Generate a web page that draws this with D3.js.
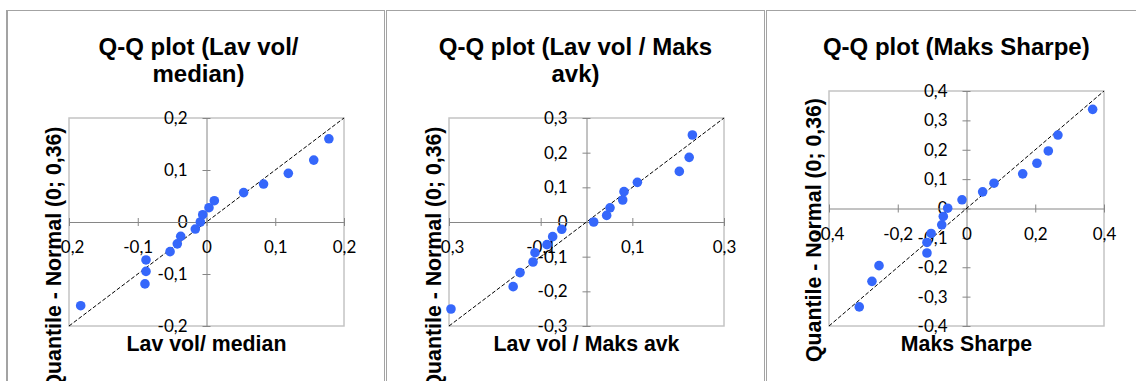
<!DOCTYPE html>
<html>
<head>
<meta charset="utf-8">
<script src="https://cdn.jsdelivr.net/npm/d3@7"></script>
<style>
  body { margin: 0; background: #fff; }
  svg text { fill: #000; }
</style>
</head>
<body>
<svg id="chart" width="1136" height="381"></svg>
<script>
// Points (x = sample quantile, y = normal quantile)
const lavMedianX = [-0.183, -0.088, -0.088, -0.0895, -0.053, -0.0425, -0.0375, -0.0163, -0.009, -0.0055, 0.0036, 0.0114, 0.054, 0.083, 0.119, 0.156, 0.178];
const lavMedianY = [-0.161, -0.073, -0.095, -0.119, -0.057, -0.042, -0.0275, -0.0135, 0.0, 0.014, 0.0275, 0.041, 0.0565, 0.073, 0.0936, 0.119, 0.160];

const lavMaksX = [-0.2957, -0.160, -0.145, -0.1167, -0.1124, -0.0862, -0.0738, -0.054, 0.0157, 0.044, 0.0513, 0.079, 0.0818, 0.111, 0.2025, 0.224, 0.231];
const lavMaksY = [-0.251, -0.1865, -0.146, -0.1154, -0.0885, -0.0654, -0.0423, -0.021, 0.0, 0.019, 0.041, 0.0635, 0.0875, 0.1144, 0.146, 0.1865, 0.251];

const sharpeX = [-0.312, -0.275, -0.2545, -0.115, -0.115, -0.103, -0.072, -0.0675, -0.0547, -0.013, 0.047, 0.080, 0.1635, 0.205, 0.238, 0.266, 0.367];
const sharpeY = [-0.335, -0.248, -0.1946, -0.1515, -0.1155, -0.085, -0.0554, -0.027, 0.001, 0.0296, 0.0567, 0.0862, 0.118, 0.154, 0.196, 0.250, 0.3376];

// Titles and tick values
const titles = [["Q-Q plot (Lav vol/", "median)"], ["Q-Q plot (Lav vol / Maks", "avk)"], ["Q-Q plot (Maks Sharpe)"]];
const xTitles = ["Lav vol/ median", "Lav vol / Maks avk", "Maks Sharpe"];
const yTitle = "Quantile - Normal (0; 0,36)";

const xTicks1 = [-0.2, -0.1, 0, 0.1, 0.2];
const yTicks1 = [-0.2, -0.1, 0, 0.1, 0.2];
const xTicks2 = [-0.3, -0.1, 0.1, 0.3];
const yTicks2 = [-0.3, -0.2, -0.1, 0, 0.1, 0.2, 0.3];
const xTicks3 = [-0.4, -0.2, 0, 0.2, 0.4];
const yTicks3 = [-0.4, -0.3, -0.2, -0.1, 0, 0.1, 0.2, 0.3, 0.4];

const limits = [0.2, 0.3, 0.4];

var svg = d3.select("svg#chart");

// Norwegian number style: comma decimals
const nb = d3.formatLocale({decimal: ",", thousands: " ", grouping: [3], currency: ["", " kr"], minus: "-"});
const fmt = nb.format(".1~f");

// Layout of each panel (frame, plot box, title positions)
const layout = [
  {fx0: 6.5,   fx1: 384.5, px0: 69,  px1: 344,  py0: 118, py1: 326, tcx: 198.5, ytx: 61,  ytcy: 258.5},
  {fx0: 386.5, fx1: 764.5, px0: 449, px1: 724,  py0: 118, py1: 326, tcx: 575.5, ytx: 441, ytcy: 258.5},
  {fx0: 766.5, fx1: 1140,  px0: 829, px1: 1104, py0: 91,  py1: 326, tcx: 956.3, ytx: 821, ytcy: 230}
];

const panels = [
  {xs: lavMedianX, ys: lavMedianY, xt: xTicks1, yt: yTicks1},
  {xs: lavMaksX, ys: lavMaksY, xt: xTicks2, yt: yTicks2},
  {xs: sharpeX, ys: sharpeY, xt: xTicks3, yt: yTicks3}
];

panels.forEach(function(p, i) {
  const L = layout[i];
  const lim = limits[i];

  // panel frame
  svg.append("rect")
    .attr("x", L.fx0).attr("y", 10.5)
    .attr("width", L.fx1 - L.fx0).attr("height", 420)
    .style("fill", "none").style("stroke", "#a3a3a3").style("stroke-width", 1);

  var x = d3.scaleLinear().domain([-lim, lim]).range([L.px0, L.px1]);
  var y = d3.scaleLinear().domain([-lim, lim]).range([L.py1, L.py0]);

  var g = svg.append("g");

  // plot area box
  g.append("rect")
    .attr("x", L.px0).attr("y", L.py0)
    .attr("width", L.px1 - L.px0).attr("height", L.py1 - L.py0)
    .style("fill", "none").style("stroke", "#c4c4c4").style("stroke-width", 1.5);

  // y axis at x = 0
  g.append("g")
    .attr("transform", "translate(" + x(0) + ",0)")
    .call(d3.axisLeft(y).tickValues(p.yt).tickFormat(fmt).tickSizeInner(4).tickSizeOuter(0).tickPadding(15))
    .call(a => a.select(".domain").style("stroke", "#868686"))
    .call(a => a.selectAll(".tick line").attr("x1", 4).attr("x2", -4).style("stroke", "#868686"))
    .call(a => a.selectAll(".tick text").style("font-family", "Lato").style("font-size", "17px").style("fill", "#000"));

  // x axis at y = 0
  g.append("g")
    .attr("transform", "translate(0," + y(0) + ")")
    .call(d3.axisBottom(x).tickValues(p.xt).tickFormat(fmt).tickSizeInner(4).tickSizeOuter(0).tickPadding(15))
    .call(a => a.select(".domain").style("stroke", "#868686"))
    .call(a => a.selectAll(".tick line").attr("y1", -4).attr("y2", 4).style("stroke", "#868686"))
    .call(a => a.selectAll(".tick text").style("font-family", "Lato").style("font-size", "17px").style("fill", "#000"));

  // reference line y = x
  g.append("line")
    .attr("x1", x(-lim)).attr("y1", y(-lim))
    .attr("x2", x(lim)).attr("y2", y(lim))
    .style("stroke", "#000").style("stroke-width", 1).style("stroke-dasharray", "4,2");

  // points
  g.append("g").selectAll("circle")
    .data(p.xs.map((v, k) => [v, p.ys[k]]))
    .enter()
    .append("circle")
    .attr("cx", d => x(d[0]))
    .attr("cy", d => y(d[1]))
    .attr("r", 4.8)
    .style("fill", "#3567fb");

  // chart title
  titles[i].forEach(function(line, k) {
    svg.append("text")
      .attr("x", L.tcx).attr("y", 54.5 + 27 * k)
      .attr("text-anchor", "middle")
      .style("font-family", "Liberation Sans, Arial, sans-serif")
      .style("font-weight", "bold").style("font-size", "24px")
      .text(line);
  });

  // x axis title
  svg.append("text")
    .attr("x", (L.px0 + L.px1) / 2).attr("y", 351)
    .attr("text-anchor", "middle")
    .style("font-family", "Liberation Sans, Arial, sans-serif")
    .style("font-weight", "bold").style("font-size", "21.3px")
    .text(xTitles[i]);

  // y axis title
  svg.append("text")
    .attr("transform", "translate(" + L.ytx + "," + L.ytcy + ") rotate(-90)")
    .attr("text-anchor", "middle")
    .style("font-family", "Liberation Sans, Arial, sans-serif")
    .style("font-weight", "bold").style("font-size", "21.3px")
    .text(yTitle);
});

// left edge of first frame is drawn heavier
svg.append("line")
  .attr("x1", 7).attr("x2", 7).attr("y1", 10).attr("y2", 381)
  .style("stroke", "#a3a3a3").style("stroke-width", 2);
</script>
</body>
</html>
